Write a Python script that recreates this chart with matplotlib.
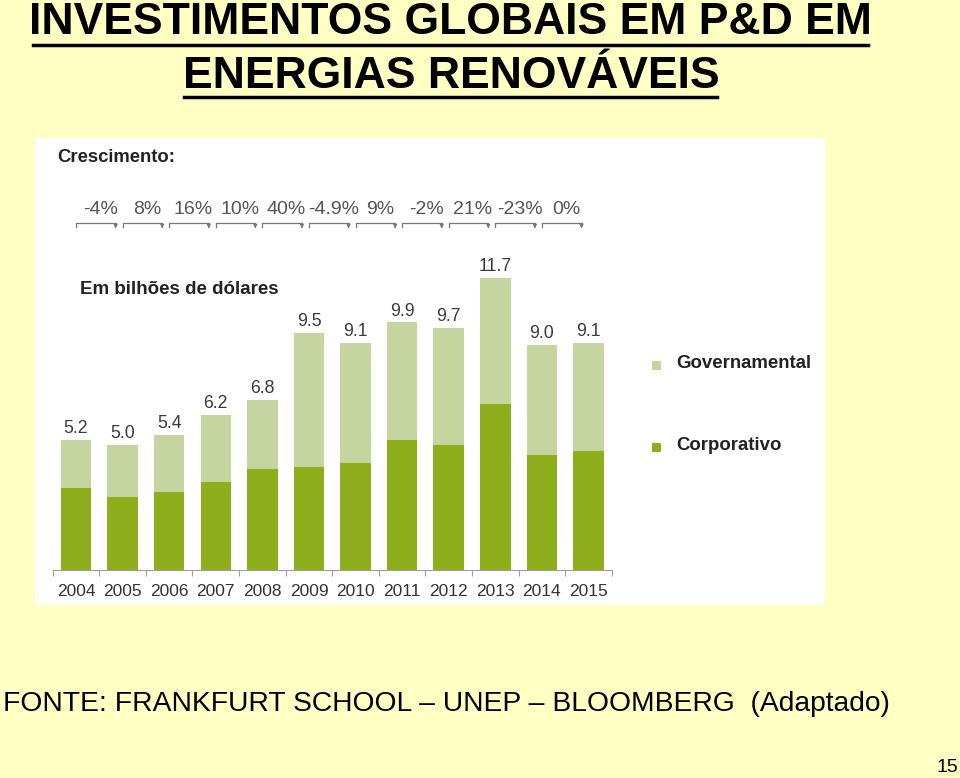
import numpy as np
import matplotlib.pyplot as plt
from matplotlib.patches import Rectangle
from matplotlib.lines import Line2D

# dados (bilhões de dólares)
anos = ['2004', '2005', '2006', '2007', '2008', '2009', '2010', '2011', '2012', '2013', '2014', '2015']
totais = [5.2, 5.0, 5.4, 6.2, 6.8, 9.5, 9.1, 9.9, 9.7, 11.7, 9.0, 9.1]
corporativo = [3.28, 2.92, 3.12, 3.52, 4.04, 4.12, 4.28, 5.2, 5.0, 6.64, 4.6, 4.76]
governamental = [t - c for t, c in zip(totais, corporativo)]
crescimento = ['-4%', '8%', '16%', '10%', '40%', '-4.9%', '9%', '-2%', '21%', '-23%', '0%']

cor_gov = '#c6d4a0'
cor_corp = '#8fae1c'
fundo = '#ffffc4'

W, H = 960, 778
fig = plt.figure(figsize=(W / 100, H / 100), dpi=100, facecolor=fundo)
plt.rcParams['font.family'] = ['Liberation Sans', 'DejaVu Sans']

def fx(px):
    return px / W

def fy(py):
    return 1 - py / H

# quadro branco do gráfico
fig.patches.append(Rectangle((fx(35), fy(605)), fx(825) - fx(35), fy(138) - fy(605),
                             transform=fig.transFigure, facecolor='white', edgecolor='none', zorder=-5))

# título sublinhado
fig.text(fx(450), fy(22), 'INVESTIMENTOS GLOBAIS EM P&D EM', ha='center', va='center',
         fontsize=32, fontweight='bold', color='black')
fig.text(fx(451), fy(76), 'ENERGIAS RENOVÁVEIS', ha='center', va='center',
         fontsize=32, fontweight='bold', color='black')
fig.add_artist(Line2D([fx(33), fx(868)], [fy(45), fy(45)], color='black', lw=2.5, transform=fig.transFigure))
fig.add_artist(Line2D([fx(184), fx(717)], [fy(97), fy(97)], color='black', lw=2.5, transform=fig.transFigure))

# eixo das barras (25 px por bilhão)
ax = fig.add_axes([fx(52.7), fy(570), fx(611.8) - fx(52.7), fy(270) - fy(570)])
ax.set_zorder(2)
ax.set_facecolor('none')
x = np.arange(len(anos))
ax.bar(x, corporativo, width=0.655, color=cor_corp, zorder=2)
ax.bar(x, governamental, width=0.655, bottom=corporativo, color=cor_gov, zorder=2)
for i, t in enumerate(totais):
    ax.text(i, t + 0.45, f'{t:.1f}', ha='center', va='center', fontsize=12.7, color='#3a3a3a')

ax.set_xlim(-0.5, len(anos) - 0.5)
ax.set_ylim(0, 12)
for s in ['top', 'right', 'left']:
    ax.spines[s].set_visible(False)
ax.spines['bottom'].set_color('#a0a0a0')
ax.set_yticks([])
ax.set_xticks(np.arange(-0.5, len(anos), 1.0))
ax.set_xticklabels([])
ax.tick_params(axis='x', length=4, color='#a0a0a0', direction='out')
for i, a in enumerate(anos):
    ax.text(i, -0.88, a, ha='center', va='center', fontsize=12.5, color='#333333')

# crescimento anual com setas
yb = 13.88
for i, g in enumerate(crescimento):
    ax.text(i + 0.52, 14.4, g, ha='center', va='center', fontsize=14, color='#555555', clip_on=False)
    ax.plot([i, i, i + 0.85], [yb - 0.16, yb, yb], color='#777777', lw=0.9, clip_on=False)
    ax.annotate('', xy=(i + 0.85, yb - 0.22), xytext=(i + 0.85, yb),
                arrowprops=dict(arrowstyle='-|>', color='#777777', lw=0.9, mutation_scale=5),
                annotation_clip=False)

fig.text(fx(57), fy(157), 'Crescimento:', ha='left', va='center', fontsize=13.3, fontweight='bold', color='#222222')
fig.text(fx(80), fy(290), 'Em bilhões de dólares', ha='left', va='center', fontsize=13.5, fontweight='bold', color='#222222')

# legenda
fig.patches.append(Rectangle((fx(652), fy(370)), fx(9), fy(361) - fy(370), transform=fig.transFigure,
                             facecolor=cor_gov, edgecolor='none'))
fig.text(fx(676), fy(363), 'Governamental', ha='left', va='center', fontsize=13.4, fontweight='bold', color='#222222')
fig.patches.append(Rectangle((fx(652), fy(452)), fx(9), fy(443) - fy(452), transform=fig.transFigure,
                             facecolor=cor_corp, edgecolor='none'))
fig.text(fx(676), fy(446), 'Corporativo', ha='left', va='center', fontsize=13.4, fontweight='bold', color='#222222')

# fonte e número da página
fig.text(fx(3), fy(704), 'FONTE: FRANKFURT SCHOOL – UNEP – BLOOMBERG  (Adaptado)', ha='left', va='center',
         fontsize=20.3, color='black')
fig.text(fx(958), fy(767), '15', ha='right', va='center', fontsize=14, color='black')

fig.savefig('out.png', dpi=100, facecolor=fundo)
